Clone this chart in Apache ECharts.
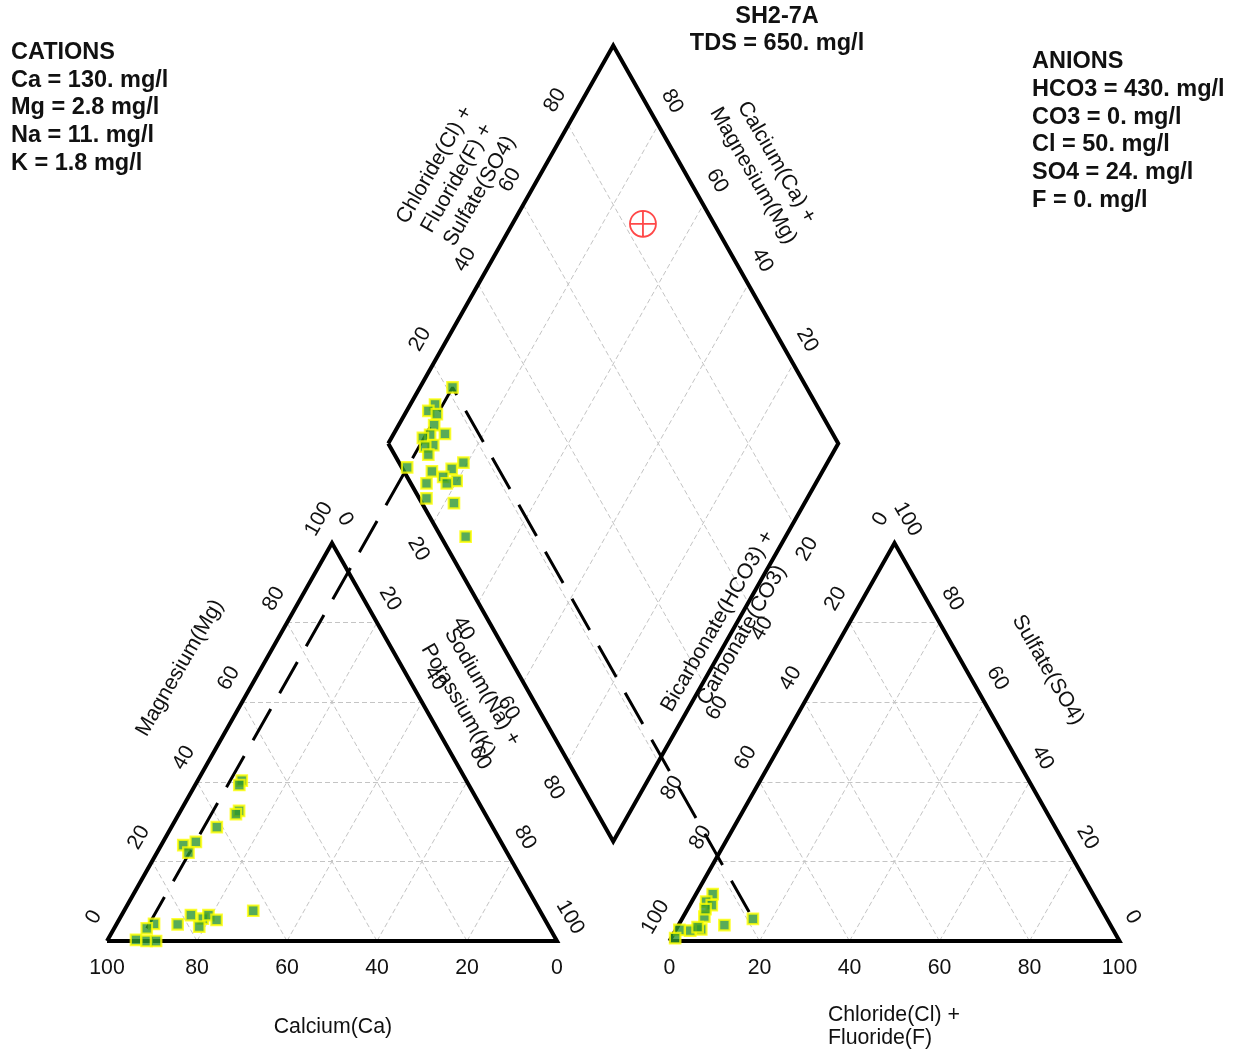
<!DOCTYPE html>
<html>
<head>
<meta charset="utf-8">
<script src="https://cdn.jsdelivr.net/npm/echarts@6/dist/echarts.min.js"></script>
<style>
  html, body { margin: 0; padding: 0; background: #fff; }
  #chart { width: 1241px; height: 1053px; }
</style>
</head>
<body>
<div id="chart"></div>
<script>
// ---- Highlighted sample (mg/l) ----
const sampleName = 'SH2-7A';
const sampleTDS = 650;
const cationNames = ['Ca', 'Mg', 'Na', 'K'];
const cationMgL = [130, 2.8, 11, 1.8];
const anionNames = ['HCO3', 'CO3', 'Cl', 'SO4', 'F'];
const anionMgL = [430, 0, 50, 24, 0];
// equivalent weights (g/eq) used to turn mg/l into meq/l
const cationEqWeight = [20.04, 12.153, 22.99, 39.098];
const anionEqWeight = [61.017, 30.004, 35.453, 48.03, 18.998];

// ---- Other samples ----
// cation triangle: [Ca %, Mg %, Na+K %]
const cationPct = [
  [49.9, 40.3, 9.8], [51.0, 39.2, 9.8], [54.3, 32.7, 13.0], [55.4, 31.9, 12.7],
  [61.3, 28.6, 10.1], [67.8, 24.9, 7.3], [71.0, 24.1, 4.9], [70.8, 22.2, 7.0],
  [63.7, 7.6, 28.7], [78.1, 6.5, 15.4], [75.9, 5.6, 18.5], [74.2, 6.5, 19.3],
  [73.0, 5.3, 21.7], [77.7, 3.6, 18.7], [82.2, 4.2, 13.6], [87.4, 4.3, 8.3],
  [93.4, 0.3, 6.3], [91.2, 0.0, 8.8], [89.1, 0.0, 10.9]
];
// anion triangle: [HCO3+CO3 %, Cl+F %, SO4 %]
const anionPct = [
  [84.5, 3.7, 11.8], [86.9, 3.2, 9.9], [86.1, 4.9, 9.0], [89.2, 4.7, 6.1],
  [85.8, 10.2, 4.0], [91.5, 5.6, 2.9], [94.1, 3.3, 2.6], [96.4, 0.8, 2.8],
  [98.4, 0.9, 0.7], [88.0, 4.0, 8.0], [92.0, 4.5, 3.5]
];
// diamond: [Na+K %, Cl+F+SO4 %]
const diamondPct = [
  [5.5, 15.3], [4.8, 13.0], [7.1, 14.5], [7.9, 12.5], [11.4, 13.8], [8.2, 10.4],
  [7.0, 8.4], [10.2, 9.8], [8.6, 7.8], [10.3, 7.5], [7.2, 1.2], [19.1, 14.3],
  [17.3, 10.9], [13.2, 6.2], [16.4, 8.0], [19.9, 10.5], [13.5, 3.5], [18.0, 8.0],
  [15.4, 1.6], [22.1, 7.1], [28.9, 5.5]
];
// reference marker in the diamond: [Na+K %, Cl+F+SO4 %]
const referencePct = [29.0, 84.2];

// axis tick values
const edgeTicks = [0, 20, 40, 60, 80, 100];
const diamondTicks = [20, 40, 60, 80];

// ---- geometry (x: side of a triangle = 100; y: triangle height = 100) ----
const GAP = 25;
const AX = 100 + GAP;                      // x origin of the anion triangle

function cationXY(c) {
  const s = c[0] + c[1] + c[2];
  const mg = c[1] / s * 100, nak = c[2] / s * 100;
  return [nak + mg / 2, mg];
}
function anionXY(a) {
  const s = a[0] + a[1] + a[2];
  const cl = a[1] / s * 100, so4 = a[2] / s * 100;
  return [AX + cl + so4 / 2, so4];
}
function diamondXY(nak, clso4) {
  // x - y/2 = Na+K ; x + y/2 = AX + (Cl+SO4)
  return [(nak + AX + clso4) / 2, AX + clso4 - nak];
}

// highlighted sample in percent of meq/l
const catMeq = cationMgL.map((v, i) => v / cationEqWeight[i]);
const anMeq = anionMgL.map((v, i) => v / anionEqWeight[i]);
const sampleCation = [catMeq[0], catMeq[1], catMeq[2] + catMeq[3]];
const sampleAnion = [anMeq[0] + anMeq[1], anMeq[2] + anMeq[4], anMeq[3]];
const catSum = sampleCation.reduce((a, b) => a + b, 0);
const anSum = sampleAnion.reduce((a, b) => a + b, 0);
const sampleNaK = sampleCation[2] / catSum * 100;
const sampleClSO4 = (sampleAnion[1] + sampleAnion[2]) / anSum * 100;
const sampleCatPt = cationXY(sampleCation);
const sampleAnPt = anionXY(sampleAnion);
const sampleDiaPt = diamondXY(sampleNaK, sampleClSO4);

// ---- frame and grid segments ----
const leftTri = [[0, 0], [100, 0], [50, 100], [0, 0]];
const rightTri = [[AX, 0], [AX + 100, 0], [AX + 50, 100], [AX, 0]];
const diamond = [diamondXY(0, 0), diamondXY(0, 100), diamondXY(100, 100),
                 diamondXY(100, 0), diamondXY(0, 0)];

const gridSegs = [];
diamondTicks.forEach(v => {
  [0, AX].forEach(o => {
    gridSegs.push([[o + v / 2, v], [o + 100 - v / 2, v]]);             // horizontal
    gridSegs.push([[o + v, 0], [o + 50 + v / 2, 100 - v]]);            // parallel to left edge
    gridSegs.push([[o + 100 - v, 0], [o + (100 - v) / 2, 100 - v]]);   // parallel to right edge
  });
  gridSegs.push([diamondXY(v, 0), diamondXY(v, 100)]);
  gridSegs.push([diamondXY(0, v), diamondXY(100, v)]);
});

// ---- text placed in data space ----
const texts = [];
function addText(x, y, text, rot, opts) {
  texts.push(Object.assign({ x: x, y: y, text: String(text), rot: rot || 0 }, opts || {}));
}
edgeTicks.forEach(v => {
  addText(100 - v, -6.8, v, 0);                        // Ca
  addText(v / 2 - 2.9, v + 6.0, v, 60);                // Mg
  addText(50 + v / 2 + 2.9, 100 - v + 6.0, v, -60);    // Na+K
  addText(AX + v, -6.8, v, 0);                         // Cl+F
  addText(AX + 50 - v / 2 - 3.1, 100 - v + 6.0, v, 60);    // HCO3+CO3
  addText(AX + 100 - v / 2 + 2.9, v + 6.0, v, -60);        // SO4
});
diamondTicks.forEach(v => {
  const ul = diamondXY(0, v);          // Cl+F+SO4 on the upper-left side
  const ur = diamondXY(100 - v, 100);  // Ca+Mg on the upper-right side
  const ll = diamondXY(v, 0);          // Na+K on the lower-left side
  const lr = diamondXY(100, 100 - v);  // HCO3+CO3 on the lower-right side
  addText(ul[0] - 2.9, ul[1] + 6.2, v, 60);
  addText(ur[0] + 3.1, ur[1] + 6.0, v, -60);
  addText(ll[0] - 3.3, ll[1] - 6.5, v, -60);
  addText(lr[0] + 3.1, lr[1] - 6.5, v, 60);
});
addText(16.2, 68.6, 'Magnesium(Mg)', 60);
addText(80.7, 62.1, 'Sodium(Na) +\nPotassium(K)', -60, { lh: 28 });
addText(50.2, -21.7, 'Calcium(Ca)', 0);
addText(160.2, -21.5, 'Chloride(Cl) +\nFluoride(F)', 0, { align: 'left', lh: 23.5 });
addText(138.4, 78.6, 'Bicarbonate(HCO3) +\nCarbonate(CO3)', 60, { lh: 28 });
addText(209.1, 68.1, 'Sulfate(SO4)', -60);
addText(77.8, 191.7, 'Chloride(Cl) +\nFluoride(F) +\nSulfate(SO4)', 60, { lh: 26 });
addText(146.2, 194.0, 'Calcium(Ca) +\nMagnesium(Mg)', -60, { lh: 27 });

// ---- info blocks ----
function fmt(v) { return Number.isInteger(v) ? v + '.' : String(v); }
const cationBlock = ['CATIONS'].concat(cationNames.map((n, i) => n + ' = ' + fmt(cationMgL[i]) + ' mg/l'));
const anionBlock = ['ANIONS'].concat(anionNames.map((n, i) => n + ' = ' + fmt(anionMgL[i]) + ' mg/l'));

const FONT = '"Liberation Sans", Arial, Helvetica, sans-serif';
const BOLD = 'bold 23.5px ' + FONT;
const REGULAR = '21.3px ' + FONT;

const markerStyle = { color: '#2e962e', borderColor: '#ffff00', borderWidth: 2.2 };
const samplePoints = []
  .concat(cationPct.map(cationXY))
  .concat(anionPct.map(anionXY))
  .concat(diamondPct.map(d => diamondXY(d[0], d[1])))
  .concat([sampleCatPt, sampleAnPt, sampleDiaPt]);

const chart = echarts.init(document.getElementById('chart'));
const PX_X = 4.5, PX_Y = 3.98, YMAX = 230;
chart.setOption({
  animation: false,
  backgroundColor: '#ffffff',
  grid: { left: 107, width: 225 * PX_X, top: 941 - YMAX * PX_Y, height: YMAX * PX_Y },
  xAxis: { type: 'value', min: 0, max: 225, show: false },
  yAxis: { type: 'value', min: 0, max: YMAX, show: false },
  series: [
    {
      type: 'lines', coordinateSystem: 'cartesian2d', silent: true, clip: false, z: 1,
      lineStyle: { color: '#c4c4c4', width: 1, type: [5, 3], opacity: 1 },
      data: gridSegs.map(s => ({ coords: s }))
    },
    {
      type: 'lines', coordinateSystem: 'cartesian2d', polyline: true, silent: true, clip: false, z: 2,
      lineStyle: { color: '#000', width: 4, opacity: 1, join: 'miter' },
      data: [leftTri, rightTri, diamond].map(p => ({ coords: p }))
    },
    {
      type: 'line', silent: true, clip: false, z: 3, symbol: 'none',
      lineStyle: { color: '#000', width: 3, type: [36, 18] },
      data: [sampleCatPt, sampleDiaPt, sampleAnPt]
    },
    {
      type: 'scatter', silent: true, clip: false, z: 4,
      symbol: 'rect', symbolSize: 10.5, itemStyle: markerStyle,
      data: samplePoints
    },
    {
      type: 'scatter', silent: true, clip: false, z: 5,
      symbol: 'path://M0,-1A1,1,0,1,1,0,1A1,1,0,1,1,0,-1ZM-1,0L1,0M0,-1L0,1',
      symbolSize: 26,
      itemStyle: { color: 'rgba(0,0,0,0)', borderColor: '#ff1a1a', borderWidth: 1.8 },
      data: [diamondXY(referencePct[0], referencePct[1])]
    },
    {
      type: 'custom', silent: true, z: 6,
      data: texts.map((t, i) => [t.x, t.y, i]),
      renderItem: function (params, api) {
        const t = texts[params.dataIndex];
        const p = api.coord([api.value(0), api.value(1)]);
        return {
          type: 'text', x: p[0], y: p[1], rotation: t.rot * Math.PI / 180,
          style: {
            text: t.text, fill: '#111', font: REGULAR,
            align: t.align || 'center', verticalAlign: 'middle',
            lineHeight: t.lh || 24
          }
        };
      }
    }
  ],
  graphic: [
    { type: 'text', left: 11, top: 39, silent: true,
      style: { text: cationBlock.join('\n'), font: BOLD, fill: '#111', lineHeight: 27.6 } },
    { type: 'text', left: 1032, top: 48, silent: true,
      style: { text: anionBlock.join('\n'), font: BOLD, fill: '#111', lineHeight: 27.7 } },
    { type: 'text', x: 777, y: 3, silent: true,
      style: { text: sampleName + '\nTDS = ' + fmt(sampleTDS) + ' mg/l', font: BOLD, fill: '#111',
               align: 'center', verticalAlign: 'top', lineHeight: 27 } }
  ]
});
</script>
</body>
</html>
